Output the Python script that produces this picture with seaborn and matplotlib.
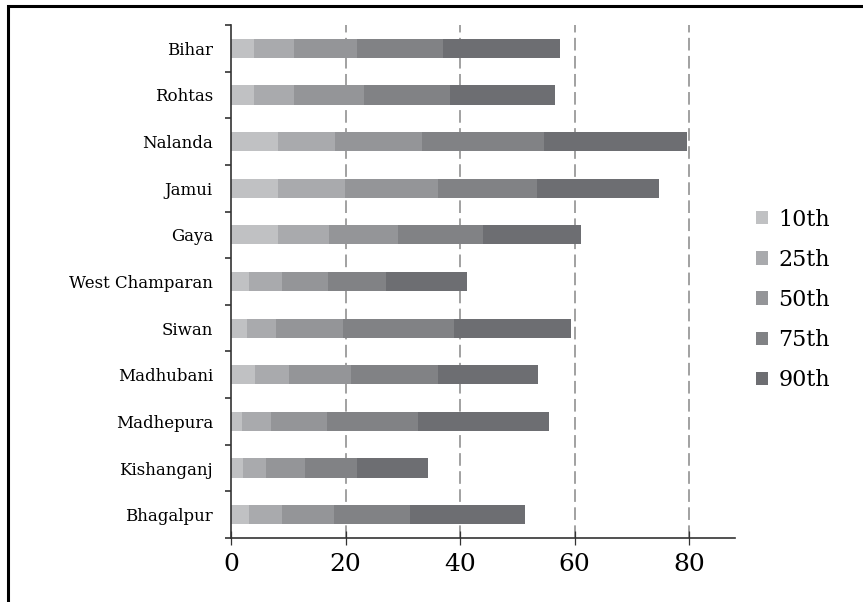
import matplotlib
matplotlib.use("Agg")
import matplotlib.pyplot as plt
import seaborn as sns
import pandas as pd
from matplotlib.patches import Rectangle, Patch
from matplotlib.ticker import FixedLocator

districts = ["Bihar", "Rohtas", "Nalanda", "Jamui", "Gaya", "West Champaran",
             "Siwan", "Madhubani", "Madhepura", "Kishanganj", "Bhagalpur"]
percentiles = ["10th", "25th", "50th", "75th", "90th"]

# cumulative end of each stacked segment
p10 = [4.0, 4.0, 8.2, 8.2, 8.2, 3.1, 2.8, 4.2, 1.9, 2.1, 3.1]
p25 = [11.0, 11.0, 18.2, 19.9, 17.1, 8.9, 7.9, 10.1, 7.0, 6.1, 8.9]
p50 = [22.0, 23.2, 33.4, 36.2, 29.2, 16.9, 19.6, 21.0, 16.8, 12.9, 18.0]
p75 = [37.0, 38.3, 54.7, 53.5, 44.0, 27.1, 39.0, 36.2, 32.7, 22.0, 31.3]
p90 = [57.4, 56.6, 79.6, 74.8, 61.1, 41.2, 59.4, 53.6, 55.6, 34.4, 51.4]

colors = ["#c0c1c3", "#a9aaad", "#949598", "#818285", "#6d6e72"]
series = [p10, p25, p50, p75, p90]

df = pd.DataFrame({"district": districts})
for name, vals in zip(percentiles, series):
    df[name] = vals

fig = plt.figure(figsize=(8.63, 6.02), dpi=100)
ax = fig.add_axes([231 / 863, 1 - 538 / 602, (735 - 231) / 863, (538 - 25) / 602])

for name, col in reversed(list(zip(percentiles, colors))):
    sns.barplot(data=df, x=name, y="district", order=districts, orient="h",
                color=col, width=0.41, saturation=1, ax=ax, zorder=2,
                edgecolor="none", linewidth=0)

ax.set_xlim(0, 88)
ax.set_ylim(10.5, -0.5)
ax.set_xlabel("")
ax.set_ylabel("")

serif = ["DejaVu Serif"]
ax.set_xticks([0, 20, 40, 60, 80])
ax.set_xticklabels(["0", "20", "40", "60", "80"], fontsize=18, family=serif)
ax.tick_params(axis="x", direction="inout", length=9.5, width=0.9, color="#333333", pad=6)
ax.set_yticks(range(len(districts)))
ax.set_yticklabels(districts, fontsize=12, family=serif)
ax.tick_params(axis="y", which="major", length=0, pad=13)
ax.yaxis.set_minor_locator(FixedLocator([i - 0.5 for i in range(len(districts) + 1)]))
ax.tick_params(axis="y", which="minor", direction="out", length=4.5, width=1.2, color="#333333")

for s in ["top", "right"]:
    ax.spines[s].set_visible(False)
for s in ["left", "bottom"]:
    ax.spines[s].set_color("#333333")
    ax.spines[s].set_linewidth(1.2)
    ax.spines[s].set_zorder(3)

for xv in [20, 40, 60, 80]:
    ax.axvline(xv, color="#9a9a9a", lw=1.3, linestyle=(0, (7, 3)), zorder=1)

handles = [Patch(facecolor=c, edgecolor="none", label=l) for l, c in zip(percentiles, colors)]
leg = fig.legend(handles=handles, loc="center left", bbox_to_anchor=(756 / 863, 1 - 300 / 602),
                 frameon=False, prop={"family": "DejaVu Serif", "size": 16},
                 handlelength=0.55, handleheight=0.55, handletextpad=0.45, labelspacing=0.82,
                 borderaxespad=0, borderpad=0)

fig.patches.append(Rectangle((8 / 863, -0.1), 1.2, 1 - 5.5 / 602 + 0.1, transform=fig.transFigure,
                             fill=False, edgecolor="black", linewidth=2.2, zorder=10))

fig.savefig("out.png", dpi=100)
